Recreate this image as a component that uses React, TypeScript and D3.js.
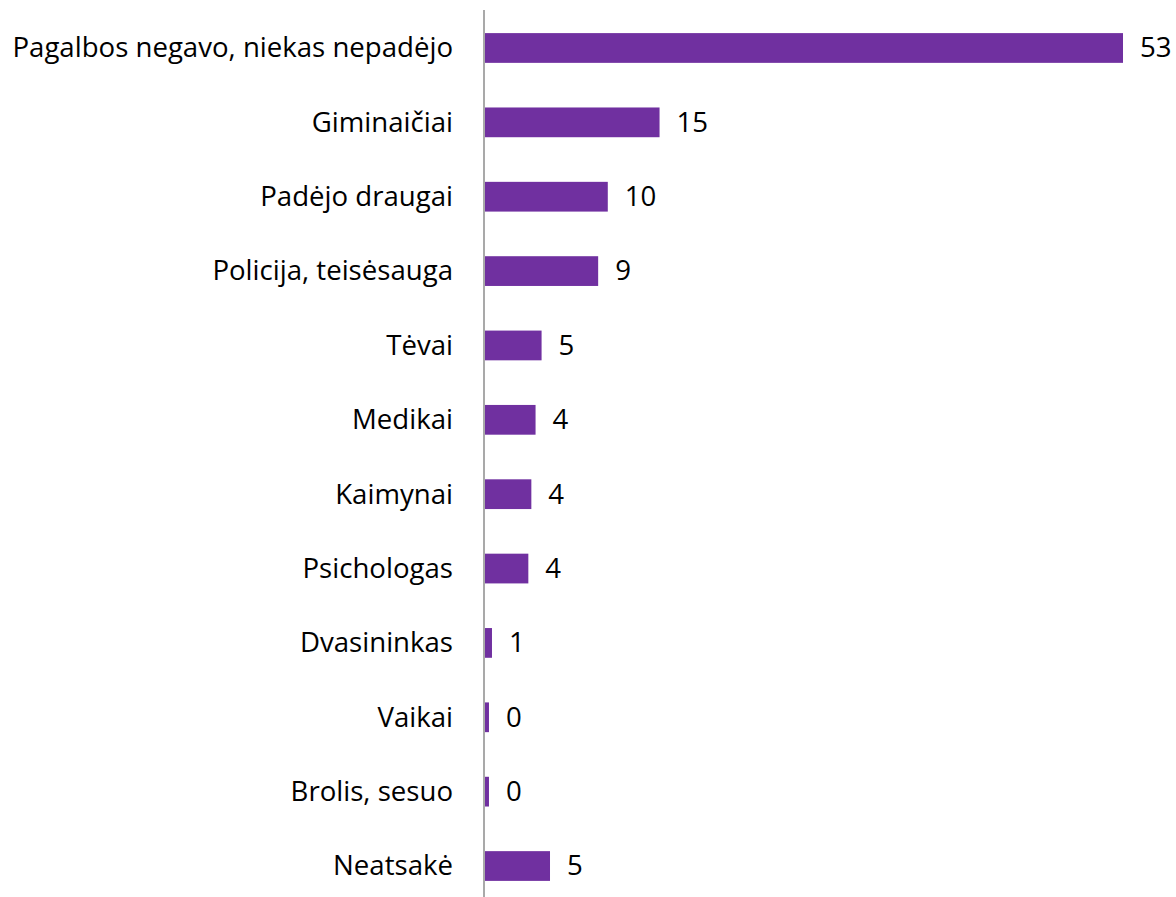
import React, { useEffect, useRef } from 'react';
import * as d3 from 'd3';

// categories top to bottom
const categories = [
  'Pagalbos negavo, niekas nepadėjo',
  'Giminaičiai',
  'Padėjo draugai',
  'Policija, teisėsauga',
  'Tėvai',
  'Medikai',
  'Kaimynai',
  'Psichologas',
  'Dvasininkas',
  'Vaikai',
  'Brolis, sesuo',
  'Neatsakė'
];

// bar lengths (labels are rounded)
const values = [53, 14.5, 10.2, 9.4, 4.7, 4.2, 3.85, 3.6, 0.58, 0.33, 0.33, 5.4];
const valueLabels = ['53', '15', '10', '9', '5', '4', '4', '4', '1', '0', '0', '5'];

const W = 1176;
const H = 897;

const App: React.FC = () => {
  const svgRef = useRef<SVGSVGElement>(null);

  useEffect(() => {
    if (!svgRef.current) return;
    const svg = d3.select(svgRef.current);
    svg.selectAll('*').remove();

    const font = '"Open Sans", "Noto Sans", sans-serif';
    const fontSize = 27.6;

    const x = d3.scaleLinear().domain([0, 53]).range([485, 1123]);
    const y = d3.scaleBand<string>()
      .domain(categories)
      .range([10.8, 903.2])
      .paddingInner(0.6)
      .paddingOuter(0.3);

    const rows = categories.map((c, i) => ({ c, v: values[i], lbl: valueLabels[i] }));

    // bars
    svg.append('g')
      .selectAll('rect')
      .data(rows)
      .enter()
      .append('rect')
      .attr('x', x(0))
      .attr('y', d => y(d.c)!)
      .attr('width', d => x(d.v) - x(0))
      .attr('height', y.bandwidth())
      .attr('fill', '#7030A0');

    // axis line
    svg.append('line')
      .attr('x1', 484)
      .attr('x2', 484)
      .attr('y1', 10)
      .attr('y2', H)
      .attr('stroke', '#8c8c8c')
      .attr('stroke-width', 1.5);

    // category labels
    svg.append('g')
      .selectAll('text')
      .data(rows)
      .enter()
      .append('text')
      .attr('x', 453)
      .attr('y', d => y(d.c)! + y.bandwidth() / 2)
      .attr('dy', '0.34em')
      .attr('text-anchor', 'end')
      .attr('font-family', font)
      .attr('font-size', fontSize)
      .attr('fill', '#000')
      .text(d => d.c);

    // value labels
    svg.append('g')
      .selectAll('text')
      .data(rows)
      .enter()
      .append('text')
      .attr('x', d => x(d.v) + 17)
      .attr('y', d => y(d.c)! + y.bandwidth() / 2)
      .attr('dy', '0.34em')
      .attr('font-family', font)
      .attr('font-size', fontSize)
      .attr('fill', '#000')
      .text(d => d.lbl);
  }, []);

  return (
    <svg
      ref={svgRef}
      width={W}
      height={H}
      style={{ position: 'absolute', left: 0, top: 0, display: 'block', background: '#fff' }}
    />
  );
};

export default App;
